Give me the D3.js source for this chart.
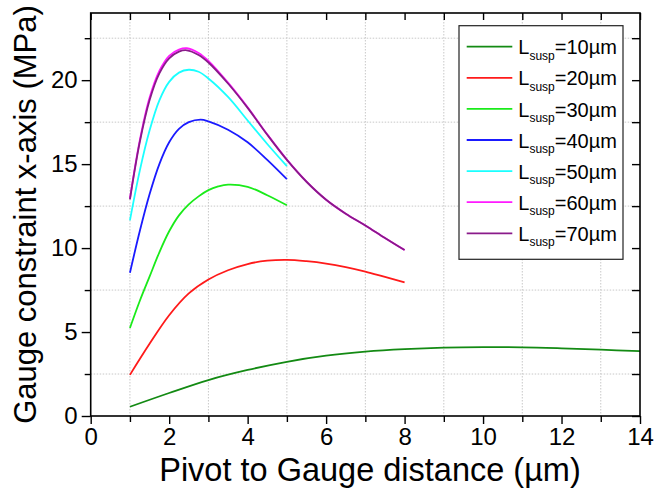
<!DOCTYPE html>
<html>
<head>
<meta charset="utf-8">
<script src="https://cdn.jsdelivr.net/npm/d3@7"></script>
<style>
  html, body { margin: 0; padding: 0; background: #fff; }
  svg { display: block; font-family: "Liberation Sans", Arial, sans-serif; }
</style>
</head>
<body>
<svg id="chart" width="654" height="491"></svg>
<script>
// Gauge stress versus pivot-to-gauge distance for several suspension lengths
const seriesNames = ["10", "20", "30", "40", "50", "60", "70"];
const seriesColors = ["#138a13", "#ff1a1a", "#1aeb1a", "#1a1aff", "#1affff", "#ff1aff", "#8a1a8a"];

const x10 = [1, 2, 3, 4, 5, 6, 7, 8, 9, 10, 11, 12, 13, 14];
const y10 = [0.55, 1.37, 2.14, 2.74, 3.23, 3.59, 3.83, 3.98, 4.07, 4.1, 4.09, 4.03, 3.95, 3.86];

const x20 = [1, 1.5, 2, 2.5, 3, 3.5, 4, 4.5, 5, 5.5, 6, 6.5, 7, 7.5, 8];
const y20 = [2.45, 4.3, 6.0, 7.3, 8.13, 8.68, 9.05, 9.25, 9.3, 9.22, 9.08, 8.87, 8.6, 8.28, 7.96];

const x30 = [1, 1.25, 1.5, 1.75, 2, 2.25, 2.5, 2.75, 3, 3.25, 3.5, 4, 4.5, 5];
const y30 = [5.24, 6.85, 8.3, 9.75, 11.0, 11.95, 12.6, 13.08, 13.45, 13.67, 13.78, 13.65, 13.15, 12.55];

const x40 = [1, 1.25, 1.5, 1.75, 2, 2.25, 2.5, 2.8, 3, 3.5, 4, 4.5, 5];
const y40 = [8.53, 11.0, 13.2, 15.0, 16.3, 17.1, 17.5, 17.65, 17.55, 17.05, 16.3, 15.25, 14.1];

const x50 = [1, 1.25, 1.5, 1.75, 2, 2.25, 2.5, 2.75, 3, 3.5, 4, 4.5, 5];
const y50 = [11.65, 14.6, 17.0, 18.8, 19.9, 20.45, 20.62, 20.5, 20.1, 19.0, 17.6, 16.2, 14.88];

const x60 = [1, 1.25, 1.5, 1.75, 2, 2.25, 2.45, 2.75, 3, 3.5, 4, 4.5, 5, 5.5, 6, 6.5, 7, 7.5, 8];
const y60 = [12.95, 16.4, 18.95, 20.55, 21.45, 21.82, 21.9, 21.62, 21.15, 19.85, 18.38, 16.77, 15.27, 13.96, 12.88, 12.05, 11.35, 10.6, 9.88];

const x70 = [1, 1.25, 1.5, 1.75, 2, 2.25, 2.45, 2.75, 3, 3.5, 4, 4.5, 5, 5.5, 6, 6.5, 7, 7.5, 8];
const y70 = [12.9, 16.3, 18.8, 20.4, 21.3, 21.7, 21.78, 21.5, 21.05, 19.8, 18.35, 16.75, 15.25, 13.95, 12.88, 12.05, 11.35, 10.6, 9.88];

const xTickLabels = [0, 2, 4, 6, 8, 10, 12, 14];
const yTickLabels = [0, 5, 10, 15, 20];
const xTitle = "Pivot to Gauge distance (µm)";
const yTitle = "Gauge constraint x-axis (MPa)";

const seriesX = [x10, x20, x30, x40, x50, x60, x70];
const seriesY = [y10, y20, y30, y40, y50, y60, y70];
const series = seriesNames.map((n, i) => ({
  name: n,
  color: seriesColors[i],
  points: seriesX[i].map((xv, j) => [xv, seriesY[i][j]])
}));

const svg = d3.select("#chart");
const plotLeft = 90.7, plotRight = 640, plotTop = 13, plotBottom = 416;

const x = d3.scaleLinear().domain([0, 14]).range([plotLeft, plotRight]);
const y = d3.scaleLinear().domain([0, 24]).range([plotBottom, plotTop]);

const xMinor = d3.range(1, 14, 2);
const yMinor = d3.range(2.5, 24, 5);

// dotted grid at the minor positions
const grid = svg.append("g").attr("stroke", "#c8c8c8").attr("stroke-width", 1)
  .attr("stroke-dasharray", "1.5,1.5");
grid.selectAll("line.gx").data(xMinor).join("line").attr("class", "gx")
  .attr("x1", d => x(d)).attr("x2", d => x(d)).attr("y1", plotTop).attr("y2", plotBottom);
grid.selectAll("line.gy").data(yMinor).join("line").attr("class", "gy")
  .attr("x1", plotLeft).attr("x2", plotRight).attr("y1", d => y(d)).attr("y2", d => y(d));

// curves
const line = d3.line()
  .x(d => x(d[0])).y(d => y(d[1]))
  .curve(d3.curveCatmullRom.alpha(0.5));
svg.append("g").selectAll("path").data(series).join("path")
  .attr("d", d => line(d.points))
  .attr("fill", "none")
  .attr("stroke", d => d.color)
  .attr("stroke-width", 1.8);

// axes: bottom/left outward with labels, top/right inward without labels
const fontSize = 24;
function styleAxis(g) {
  g.select(".domain").remove();
  g.selectAll(".tick line").attr("stroke", "#000").attr("stroke-width", 1.4);
  g.selectAll(".tick text").attr("fill", "#000").style("font-size", fontSize + "px")
    .style("font-family", "'Liberation Sans', Arial, sans-serif");
}
const xAll = d3.range(0, 15, 1);
const yAll = d3.range(0, 24.1, 2.5);

const gBottom = svg.append("g").attr("transform", `translate(0,${plotBottom})`)
  .call(d3.axisBottom(x).tickValues(xAll).tickSize(8).tickPadding(4)
    .tickFormat(d => xTickLabels.includes(d) ? d : ""));
styleAxis(gBottom);
gBottom.selectAll(".tick line").attr("y2", d => xTickLabels.includes(d) ? 8 : 6);

const gLeft = svg.append("g").attr("transform", `translate(${plotLeft},0)`)
  .call(d3.axisLeft(y).tickValues(yAll).tickSize(9).tickPadding(4)
    .tickFormat(d => yTickLabels.includes(d) ? d : ""));
styleAxis(gLeft);
gLeft.selectAll(".tick line").attr("x2", d => yTickLabels.includes(d) ? -9 : -6);

const gTop = svg.append("g").attr("transform", `translate(0,${plotTop})`)
  .call(d3.axisTop(x).tickValues(xAll).tickSize(-7).tickFormat(""));
styleAxis(gTop);

const gRight = svg.append("g").attr("transform", `translate(${plotRight},0)`)
  .call(d3.axisRight(y).tickValues(yAll).tickSize(-8).tickFormat(""));
styleAxis(gRight);

// frame
svg.append("rect")
  .attr("x", plotLeft).attr("y", plotTop)
  .attr("width", plotRight - plotLeft).attr("height", plotBottom - plotTop)
  .attr("fill", "none").attr("stroke", "#000").attr("stroke-width", 1.6);

// axis titles
svg.append("text")
  .attr("x", 370).attr("y", 481)
  .attr("text-anchor", "middle")
  .style("font-size", "32.5px").attr("fill", "#000")
  .text(xTitle);
svg.append("text")
  .attr("transform", `translate(36,${(plotTop + plotBottom) / 2}) rotate(-90)`)
  .attr("text-anchor", "middle")
  .style("font-size", "31px").attr("fill", "#000")
  .text(yTitle);

// legend
const lg = svg.append("g");
lg.append("rect")
  .attr("x", 459).attr("y", 25.7).attr("width", 164).attr("height", 233.6)
  .attr("fill", "#fff").attr("stroke", "#222").attr("stroke-width", 1.2);
const rows = lg.selectAll("g.row").data(series).join("g").attr("class", "row")
  .attr("transform", (d, i) => `translate(0,${46.7 + i * 31.1})`);
rows.append("line")
  .attr("x1", 466.7).attr("x2", 512.3).attr("y1", 0).attr("y2", 0)
  .attr("stroke", d => d.color).attr("stroke-width", 1.8);
const lt = rows.append("text")
  .attr("x", 518.3).attr("y", 7.6)
  .style("font-size", "20px").attr("fill", "#000");
lt.append("tspan").text("L");
lt.append("tspan").attr("dy", 5.5).style("font-size", "12px").text("susp");
lt.append("tspan").attr("dy", -5.5).text(d => "=" + d.name + "µm");
</script>
</body>
</html>
